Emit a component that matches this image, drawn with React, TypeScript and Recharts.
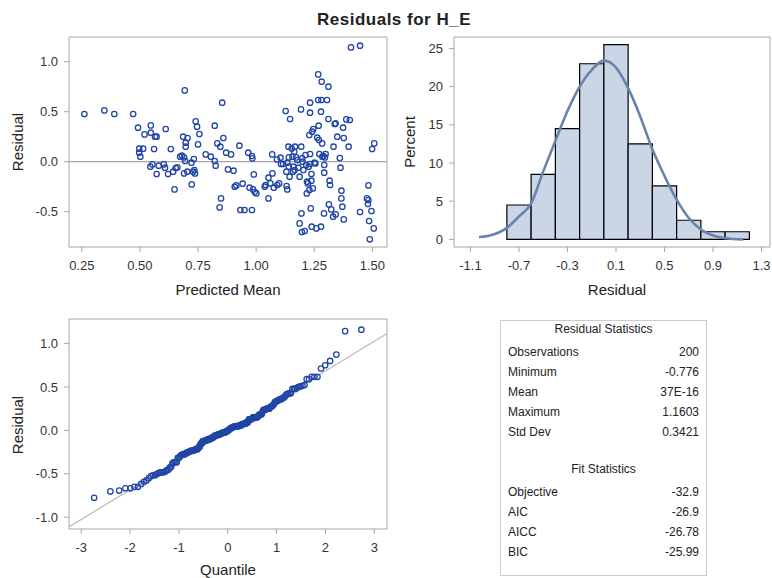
import React from "react";
import {
  ScatterChart,
  Scatter,
  ComposedChart,
  Line,
  XAxis,
  YAxis,
  ReferenceLine,
  ReferenceArea,
} from "recharts";

const FONT = '"Liberation Sans", Arial, sans-serif';

// residuals vs predicted mean
const predicted = [
  0.261, 0.347, 0.39, 0.471, 0.492, 0.547, 0.52, 0.547, 0.565, 0.572, 0.611, 0.497, 0.514, 0.497, 0.502,
  0.561, 0.545, 0.554, 0.572, 0.581, 0.603, 0.608, 0.621, 0.633, 0.643, 0.649, 0.654, 0.661, 0.673, 0.681,
  0.686, 0.693, 0.69, 0.695, 0.69, 0.697, 0.697, 0.705, 0.704, 0.722, 0.723, 0.729, 0.732, 0.734, 0.737,
  0.74, 0.746, 0.756, 0.75, 0.783, 0.805, 0.822, 0.822, 0.826, 0.833, 0.846, 0.843, 0.849, 0.854, 0.859,
  0.871, 0.879, 0.892, 0.903, 0.908, 0.915, 0.928, 0.932, 0.95, 0.942, 0.966, 0.972, 0.982, 0.984, 0.982,
  0.987, 0.99, 0.994, 1.001, 1.037, 1.041, 1.053, 1.053, 1.061, 1.069, 1.07, 1.076, 1.091, 1.099, 1.09,
  1.105, 1.107, 1.116, 1.127, 1.13, 1.131, 1.134, 1.139, 1.141, 1.141, 1.144, 1.146, 1.153, 1.156, 1.16,
  1.159, 1.164, 1.167, 1.166, 1.172, 1.177, 1.182, 1.187, 1.187, 1.193, 1.194, 1.195, 1.197, 1.209, 1.198,
  1.203, 1.212, 1.215, 1.218, 1.219, 1.223, 1.226, 1.229, 1.229, 1.232, 1.232, 1.232, 1.232, 1.235, 1.238,
  1.239, 1.238, 1.241, 1.244, 1.246, 1.251, 1.255, 1.259, 1.263, 1.267, 1.269, 1.267, 1.27, 1.272, 1.279,
  1.282, 1.281, 1.279, 1.284, 1.285, 1.289, 1.292, 1.293, 1.293, 1.296, 1.299, 1.305, 1.311, 1.311, 1.313,
  1.316, 1.318, 1.323, 1.331, 1.333, 1.338, 1.342, 1.342, 1.349, 1.36, 1.363, 1.367, 1.367, 1.371, 1.377,
  1.374, 1.377, 1.388, 1.398, 1.403, 1.408, 1.447, 1.447, 1.483, 1.477, 1.481, 1.483, 1.486, 1.489, 1.496,
  1.506, 1.499, 1.508, 1.134, 1.2,
];

const residual = [
  0.477, 0.513, 0.477, 0.477, 0.34, 0.363, 0.273, 0.29, 0.25, 0.25, 0.327, 0.13, 0.13, 0.09, 0.05,
  0.127, -0.05, -0.027, -0.123, -0.04, -0.027, -0.06, -0.123, 0.127, -0.1, -0.277, -0.063, -0.057, 0.05, 0.06,
  0.25, 0.713, 0.043, 0.007, -0.117, 0.19, 0.15, 0.237, -0.1, -0.01, -0.227, -0.1, 0.027, -0.083, -0.117,
  0.403, 0.35, 0.277, 0.173, 0.073, 0.05, 0.36, 0.007, -0.04, 0.183, 0.15, -0.457, -0.367, 0.59, 0.237,
  0.09, -0.077, 0.073, -0.09, -0.25, -0.237, 0.16, -0.483, -0.483, -0.22, 0.09, -0.26, 0.057, 0.033, -0.483,
  -0.277, -0.127, -0.303, -0.317, -0.25, -0.233, -0.16, -0.367, -0.217, 0.073, -0.117, -0.26, -0.233, -0.217, 0.023,
  0.04, -0.023, -0.023, 0.507, -0.1, -0.243, -0.277, 0.15, 0.043, -0.05, -0.15, 0.427, 0.133, 0.05, -0.05,
  -0.1, 0.1, 0.15, -0.083, 0.043, 0.017, -0.06, -0.15, -0.617, 0.523, 0.15, -0.517, -0.703, -0.693, 0.033,
  -0.083, 0.067, -0.033, -0.317, -0.2, -0.217, -0.05, 0.267, -0.283, 0.59, 0.49, 0.077, -0.023, -0.467, -0.123,
  -0.65, -0.19, 0.3, -0.267, 0.327, -0.01, -0.017, -0.667, 0.24, 0.873, 0.36, 0.617, 0.217, 0.077, 0.5,
  0.8, 0.617, -0.65, 0.183, 0.05, 0.057, -0.517, -0.033, -0.11, 0.043, 0.077, 0.617, 0.75, 0.427, -0.427,
  -0.19, -0.233, -0.477, -0.55, 0.15, 0.377, -0.527, 0.383, 0.25, 0.037, -0.06, -0.29, -0.367, -0.45, -0.577,
  0.34, 0.237, 0.423, 0.15, 0.417, 1.143, 1.16, -0.503, -0.237, -0.367, -0.423, -0.383, -0.593, -0.776, -0.493,
  -0.667, 0.127, 0.183, -0.01, 0.0,
];

// histogram bins (percent) and kernel density
const binMid = [-0.7, -0.5, -0.3, -0.1, 0.1, 0.3, 0.5, 0.7, 0.9, 1.1];
const binPct = [4.5, 8.5, 14.5, 23, 25.5, 12.5, 7, 2.5, 1, 1];
const binWidth = 0.2;

const densityX = [-1.03, -0.94, -0.8, -0.7, -0.6, -0.5, -0.4, -0.3, -0.2, -0.1, 0.0, 0.1, 0.2, 0.3, 0.4, 0.5, 0.6, 0.7, 0.8, 0.9, 1.0, 1.15];
const densityPct = [0.3, 0.5, 1.5, 3.0, 4.7, 8.9, 12.9, 16.8, 20.0, 22.2, 23.4, 22.5, 19.8, 16.1, 11.8, 8.3, 5.2, 2.8, 1.3, 0.5, 0.15, 0.0];

// tick labels
const scatterXTicks = [0.25, 0.5, 0.75, 1.0, 1.25, 1.5];
const residualTicks = [-0.5, 0, 0.5, 1.0];
const histXTicks = [-1.1, -0.7, -0.3, 0.1, 0.5, 0.9, 1.3];
const histYTicks = [0, 5, 10, 15, 20, 25];
const qqXTicks = [-3, -2, -1, 0, 1, 2, 3];
const qqYTicks = [-1.0, -0.5, 0, 0.5, 1.0];

// statistics table
const statLabels = ["Observations", "Minimum", "Mean", "Maximum", "Std Dev"];
const statValues = ["200", "-0.776", "37E-16", "1.1603", "0.3421"];
const fitLabels = ["Objective", "AIC", "AICC", "BIC"];
const fitValues = ["-32.9", "-26.9", "-26.78", "-25.99"];
const stdDev = 0.3421;

const MARK = "#2246a6";
const FRAME = "#a6a6a6";

const tickStyle = { fill: "#333", fontSize: 13, fontFamily: FONT };

// normal scores for the Q-Q plot (Blom)
const invNorm = (p: number) => {
  const a = [-39.69683028665376, 220.9460984245205, -275.9285104469687, 138.357751867269, -30.66479806614716, 2.506628277459239];
  const b = [-54.47609879822406, 161.5858368580409, -155.6989798598866, 66.80131188771972, -13.28068155288572];
  const c = [-0.007784894002430293, -0.3223964580411365, -2.400758277161838, -2.549732539343734, 4.374664141464968, 2.938163982698783];
  const d = [0.007784695709041462, 0.3224671290700398, 2.445134137142996, 3.754408661907416];
  const pl = 0.02425;
  if (p < pl) {
    const q = Math.sqrt(-2 * Math.log(p));
    return (((((c[0] * q + c[1]) * q + c[2]) * q + c[3]) * q + c[4]) * q + c[5]) / ((((d[0] * q + d[1]) * q + d[2]) * q + d[3]) * q + 1);
  }
  if (p > 1 - pl) {
    const q = Math.sqrt(-2 * Math.log(1 - p));
    return -(((((c[0] * q + c[1]) * q + c[2]) * q + c[3]) * q + c[4]) * q + c[5]) / ((((d[0] * q + d[1]) * q + d[2]) * q + d[3]) * q + 1);
  }
  const q = p - 0.5;
  const r = q * q;
  return ((((((a[0] * r + a[1]) * r + a[2]) * r + a[3]) * r + a[4]) * r + a[5]) * q) / (((((b[0] * r + b[1]) * r + b[2]) * r + b[3]) * r + b[4]) * r + 1);
};

const scatterData = predicted.map((x, i) => ({ x, y: residual[i] }));
const sortedRes = [...residual].sort((a, b) => a - b);
const qqData = sortedRes.map((y, i) => ({
  x: invNorm((i + 1 - 0.375) / (sortedRes.length + 0.25)),
  y,
}));
const densityData = densityX.map((x, i) => ({ x, pct: densityPct[i] }));

const OpenCircle = (props: any) => (
  <circle cx={props.cx} cy={props.cy} r={2.7} fill="none" stroke={MARK} strokeWidth={1.3} />
);

const Txt = ({ x, y, children, rotate, bold, size = 15, spacing = 0 }: any) => (
  <div
    style={{
      position: "absolute",
      left: x,
      top: y,
      transform: `translate(-50%, -50%)${rotate ? " rotate(-90deg)" : ""}`,
      fontFamily: FONT,
      fontSize: size,
      fontWeight: bold ? "bold" : "normal",
      letterSpacing: spacing,
      lineHeight: 1,
      color: "#222",
      whiteSpace: "nowrap",
    }}
  >
    {children}
  </div>
);

const SX = [0.195, 1.563];
const SY = [-0.853, 1.247];
const HX = [-1.236, 1.37];
const HY = [-1.0, 26.5];
const QX = [-3.25, 3.26];
const QY = [-1.136, 1.283];

const ResidualScatter = () => (
  <ScatterChart width={400} height={300} margin={{ top: 37, right: 13, bottom: 23, left: 19 }}>
    <XAxis
      type="number"
      dataKey="x"
      domain={SX}
      allowDataOverflow
      ticks={scatterXTicks}
      tickFormatter={(v: number) => v.toFixed(2)}
      tick={tickStyle}
      tickLine={{ stroke: FRAME }}
      axisLine={false}
      tickSize={5}
      tickMargin={9}
      height={30}
    />
    <YAxis
      type="number"
      dataKey="y"
      domain={SY}
      allowDataOverflow
      ticks={residualTicks}
      tickFormatter={(v: number) => v.toFixed(1)}
      tick={tickStyle}
      tickLine={{ stroke: FRAME }}
      axisLine={false}
      tickSize={5}
      tickMargin={6}
      width={50}
    />
    <ReferenceArea x1={SX[0]} x2={SX[1]} y1={SY[0]} y2={SY[1]} fill="none" stroke={FRAME} />
    <ReferenceLine y={0} stroke={FRAME} strokeWidth={1.2} />
    <Scatter data={scatterData} shape={OpenCircle} isAnimationActive={false} />
  </ScatterChart>
);

const ResidualHistogram = () => (
  <ComposedChart width={382} height={300} data={densityData} margin={{ top: 37, right: 2, bottom: 23, left: 14 }}>
    <XAxis
      type="number"
      dataKey="x"
      domain={HX}
      allowDataOverflow
      ticks={histXTicks}
      tickFormatter={(v: number) => v.toFixed(1)}
      tick={tickStyle}
      tickLine={{ stroke: FRAME }}
      axisLine={false}
      tickSize={5}
      tickMargin={9}
      height={30}
    />
    <YAxis
      type="number"
      domain={HY}
      allowDataOverflow
      ticks={histYTicks}
      tick={tickStyle}
      tickLine={{ stroke: FRAME }}
      axisLine={false}
      tickSize={5}
      tickMargin={6}
      width={50}
    />
    <ReferenceArea x1={HX[0]} x2={HX[1]} y1={HY[0]} y2={HY[1]} fill="none" stroke={FRAME} />
    {binMid.map((m, i) => (
      <ReferenceArea
        key={i}
        x1={m - binWidth / 2}
        x2={m + binWidth / 2}
        y1={0}
        y2={binPct[i]}
        fill="#cad5e5"
        fillOpacity={1}
        stroke="#000"
        strokeWidth={1.2}
      />
    ))}
    <Line
      dataKey="pct"
      type="monotone"
      stroke="#6a83ab"
      strokeWidth={2.6}
      dot={false}
      isAnimationActive={false}
    />
  </ComposedChart>
);

const ResidualQQ = () => (
  <ScatterChart width={400} height={278} margin={{ top: 19, right: 13, bottom: 19, left: 19 }}>
    <XAxis
      type="number"
      dataKey="x"
      domain={QX}
      allowDataOverflow
      ticks={qqXTicks}
      tick={tickStyle}
      tickLine={{ stroke: FRAME }}
      axisLine={false}
      tickSize={5}
      tickMargin={9}
      height={30}
    />
    <YAxis
      type="number"
      dataKey="y"
      domain={QY}
      allowDataOverflow
      ticks={qqYTicks}
      tickFormatter={(v: number) => v.toFixed(1)}
      tick={tickStyle}
      tickLine={{ stroke: FRAME }}
      axisLine={false}
      tickSize={5}
      tickMargin={6}
      width={50}
    />
    <ReferenceArea x1={QX[0]} x2={QX[1]} y1={QY[0]} y2={QY[1]} fill="none" stroke={FRAME} />
    <ReferenceLine
      segment={[
        { x: QX[0], y: QX[0] * stdDev },
        { x: QX[1], y: QX[1] * stdDev },
      ]}
      stroke="#bdbdbd"
      strokeWidth={1.3}
    />
    <Scatter data={qqData} shape={OpenCircle} isAnimationActive={false} />
  </ScatterChart>
);

const StatsTable = () => {
  const row = (label: string, value: string, top: number, key: string) => (
    <div key={key} style={{ position: "absolute", left: 7, right: 7, top, height: 16, lineHeight: "16px" }}>
      <span style={{ position: "absolute", left: 0 }}>{label}</span>
      <span style={{ position: "absolute", right: 0 }}>{value}</span>
    </div>
  );
  return (
    <div
      style={{
        position: "absolute",
        left: 500,
        top: 320,
        width: 207,
        height: 256,
        border: "1px solid #cccccc",
        boxSizing: "border-box",
        fontFamily: FONT,
        fontSize: 12,
        color: "#222",
      }}
    >
      <div style={{ position: "absolute", left: 0, right: 0, top: 0, textAlign: "center", lineHeight: "16px" }}>
        Residual Statistics
      </div>
      {statLabels.map((l, i) => row(l, statValues[i], 23 + i * 20, "s" + i))}
      <div style={{ position: "absolute", left: 0, right: 0, top: 140, textAlign: "center", lineHeight: "16px" }}>
        Fit Statistics
      </div>
      {fitLabels.map((l, i) => row(l, fitValues[i], 163 + i * 20, "f" + i))}
    </div>
  );
};

export default function App() {
  return (
    <div style={{ position: "absolute", left: 0, top: 0, width: 772, height: 578, background: "#fff", overflow: "hidden" }}>
      <Txt x={394} y={19} bold size={17} spacing={0.5}>
        Residuals for H_E
      </Txt>
      <div style={{ position: "absolute", left: 0, top: 0 }}>
        <ResidualScatter />
      </div>
      <div style={{ position: "absolute", left: 390, top: 0 }}>
        <ResidualHistogram />
      </div>
      <div style={{ position: "absolute", left: 0, top: 300 }}>
        <ResidualQQ />
      </div>
      <StatsTable />
      <Txt x={17} y={142} rotate>Residual</Txt>
      <Txt x={228} y={289}>Predicted Mean</Txt>
      <Txt x={409} y={142} rotate>Percent</Txt>
      <Txt x={617} y={289}>Residual</Txt>
      <Txt x={17} y={425} rotate>Residual</Txt>
      <Txt x={228} y={569}>Quantile</Txt>
    </div>
  );
}
